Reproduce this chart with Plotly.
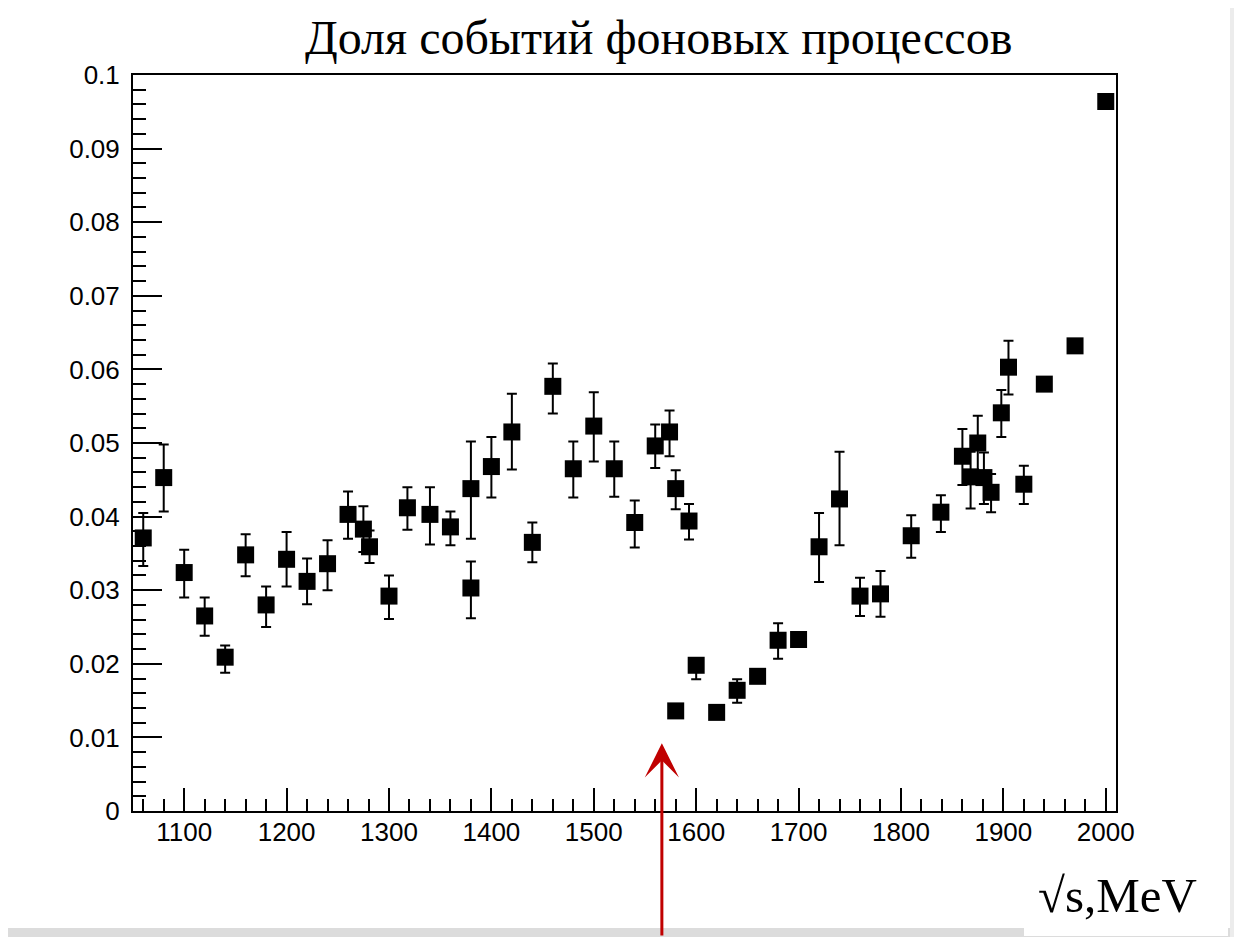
import plotly.graph_objects as go

# ---- data ----
energy = [1060, 1080, 1100, 1120, 1140, 1160, 1180, 1200, 1220, 1240,
          1260, 1275, 1281, 1300, 1318, 1340, 1360, 1380, 1380, 1400,
          1420, 1440, 1460, 1480, 1500, 1520, 1540, 1560, 1574, 1580,
          1593, 1580, 1600, 1620, 1640, 1660, 1680, 1700, 1720, 1740,
          1760, 1780, 1810, 1839, 1860, 1868, 1875, 1881, 1888, 1898,
          1905, 1920, 1940, 1970, 2000]
fraction = [0.0371, 0.0453, 0.0324, 0.0265, 0.0209, 0.0348, 0.0280, 0.0342, 0.0312, 0.0336,
            0.0403, 0.0383, 0.0359, 0.0292, 0.0412, 0.0403, 0.0386, 0.0438, 0.0303, 0.0468,
            0.0515, 0.0365, 0.0577, 0.0465, 0.0523, 0.0465, 0.0392, 0.0496, 0.0515, 0.0438,
            0.0394, 0.0136, 0.0198, 0.0134, 0.0164, 0.0183, 0.0232, 0.0233, 0.0359, 0.0424,
            0.0292, 0.0295, 0.0374, 0.0406, 0.0482, 0.0454, 0.0500, 0.0453, 0.0433, 0.0541,
            0.0603, 0.0444, 0.0580, 0.0632, 0.0964]
err_up = [0.0034, 0.0045, 0.0031, 0.0025, 0.0016, 0.0028, 0.0025, 0.0037, 0.0031, 0.0032,
          0.0031, 0.0031, 0.0022, 0.0028, 0.0028, 0.0037, 0.0021, 0.0064, 0.0036, 0.0040,
          0.0052, 0.0027, 0.0031, 0.0037, 0.0046, 0.0037, 0.0030, 0.0029, 0.0029, 0.0025,
          0.0023, 0.0006, 0.0008, 0.0006, 0.0015, 0.0008, 0.0023, 0.0008, 0.0046, 0.0064,
          0.0025, 0.0031, 0.0028, 0.0023, 0.0037, 0.0034, 0.0037, 0.0034, 0.0025, 0.0031,
          0.0036, 0.0025, 0.0005, 0.0005, 0.0005]
err_dn = [0.0038, 0.0046, 0.0034, 0.0027, 0.0021, 0.0029, 0.0030, 0.0037, 0.0031, 0.0036,
          0.0033, 0.0031, 0.0022, 0.0031, 0.0030, 0.0041, 0.0025, 0.0068, 0.0041, 0.0042,
          0.0051, 0.0027, 0.0037, 0.0039, 0.0048, 0.0038, 0.0034, 0.0030, 0.0033, 0.0028,
          0.0025, 0.0006, 0.0019, 0.0006, 0.0017, 0.0008, 0.0025, 0.0008, 0.0048, 0.0063,
          0.0027, 0.0031, 0.0030, 0.0027, 0.0039, 0.0043, 0.0041, 0.0036, 0.0027, 0.0033,
          0.0037, 0.0027, 0.0005, 0.0005, 0.0005]

x_ticks = [1100, 1200, 1300, 1400, 1500, 1600, 1700, 1800, 1900, 2000]
x_labels = ["1100", "1200", "1300", "1400", "1500", "1600", "1700", "1800", "1900", "2000"]
y_ticks = [0, 0.01, 0.02, 0.03, 0.04, 0.05, 0.06, 0.07, 0.08, 0.09, 0.1]
y_labels = ["0", "0.01", "0.02", "0.03", "0.04", "0.05", "0.06", "0.07", "0.08", "0.09", "0.1"]

title_text = "Доля событий фоновых процессов"
x_title = "√s,MeV"
arrow_energy = 1566.5
arrow_tip = 0.0092

# page body has an 8px margin: lay the figure out in screen pixels minus 8
OFF = 8
W, H = 1242 - OFF, 937 - OFF
L, T = 133 - OFF, 75 - OFF
R = W - (1116 - OFF)
B = H - (811 - OFF)
pw, ph = W - L - R, H - T - B

def px_x(p):  # screen pixel -> paper x
    return (p - OFF - L) / pw

def px_y(p):  # screen pixel -> paper y
    return (H - B - (p - OFF)) / ph

fig = go.Figure()
fig.add_trace(go.Scatter(
    x=energy, y=fraction, mode="markers",
    marker=dict(symbol="square", size=17, color="black", line=dict(width=0)),
    error_y=dict(type="data", symmetric=False, array=err_up, arrayminus=err_dn,
                 color="black", thickness=2, width=5),
    showlegend=False, cliponaxis=False,
))

axis_font = dict(family="Liberation Sans, Arial, sans-serif", size=26, color="black")

fig.update_layout(
    width=W, height=H,
    margin=dict(l=L, r=R, t=T, b=B, pad=0),
    paper_bgcolor="white", plot_bgcolor="white",
    xaxis=dict(range=[1050, 2010], tickmode="array", tickvals=x_ticks, ticktext=x_labels,
               ticks="inside", ticklen=23, tickwidth=1.5, tickcolor="black",
               minor=dict(dtick=20, tick0=1000, ticks="inside", ticklen=12, tickwidth=1.5,
                          tickcolor="black", showgrid=False),
               showline=True, linewidth=2, linecolor="black", mirror=True,
               showgrid=False, zeroline=False, tickfont=axis_font, ticklabelstandoff=-3),
    yaxis=dict(range=[0, 0.1], tickmode="array", tickvals=y_ticks, ticktext=y_labels,
               ticks="inside", ticklen=29, tickwidth=1.5, tickcolor="black",
               minor=dict(dtick=0.002, tick0=0, ticks="inside", ticklen=13, tickwidth=1.5,
                          tickcolor="black", showgrid=False),
               showline=True, linewidth=2, linecolor="black", mirror=True,
               showgrid=False, zeroline=False, tickfont=axis_font, ticklabelstandoff=6),
    shapes=[
        # light grey slide edges
        dict(type="rect", xref="paper", yref="paper", x0=px_x(0), x1=px_x(1242),
             y0=px_y(937), y1=px_y(928), fillcolor="#dcdcdc", line=dict(width=0), layer="below"),
        dict(type="rect", xref="paper", yref="paper", x0=px_x(1230), x1=px_x(1242),
             y0=px_y(937), y1=px_y(OFF), fillcolor="#ececec", line=dict(width=0), layer="below"),
        # white box behind the axis title
        dict(type="rect", xref="paper", yref="paper", x0=px_x(1024), x1=px_x(1228),
             y0=px_y(936), y1=px_y(862), fillcolor="white", line=dict(width=0), layer="below"),
    ],
    annotations=[
        dict(text=title_text, xref="paper", yref="paper", x=px_x(658), y=px_y(37),
             xanchor="center", yanchor="middle", showarrow=False,
             font=dict(family="Liberation Serif, Times New Roman, serif", size=48, color="black")),
        dict(text=x_title, xref="paper", yref="paper", x=px_x(1117), y=px_y(895),
             xanchor="center", yanchor="middle", showarrow=False,
             font=dict(family="Liberation Serif, Times New Roman, serif", size=49, color="black")),
        dict(text="", x=arrow_energy, y=arrow_tip, xref="x", yref="y",
             showarrow=True, ax=0, ay=200, axref="pixel", ayref="pixel",
             arrowhead=3, arrowsize=1.9, arrowwidth=3, arrowcolor="#c00000", standoff=0),
    ],
)

fig.write_html("out.html")
